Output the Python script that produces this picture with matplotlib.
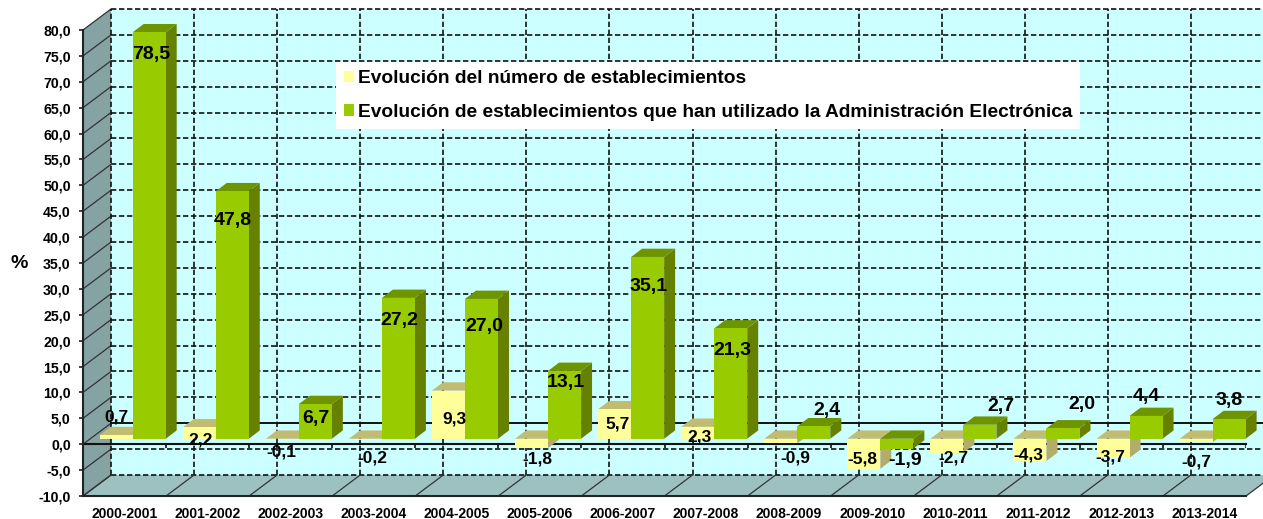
import numpy as np
import matplotlib
matplotlib.use('Agg')
import matplotlib.pyplot as plt
from matplotlib.patches import Polygon, Patch

plt.rcParams['font.family'] = ['Liberation Sans', 'DejaVu Sans']
plt.rcParams['font.weight'] = 'bold'

periods = ['2000-2001', '2001-2002', '2002-2003', '2003-2004', '2004-2005', '2005-2006', '2006-2007',
           '2007-2008', '2008-2009', '2009-2010', '2010-2011', '2011-2012', '2012-2013', '2013-2014']
establecimientos = [0.7, 2.2, -0.1, -0.2, 9.3, -1.8, 5.7, 2.3, -0.9, -5.8, -2.7, -4.3, -3.7, -0.7]
admin_electronica = [78.5, 47.8, 6.7, 27.2, 27.0, 13.1, 35.1, 21.3, 2.4, -1.9, 2.7, 2.0, 4.4, 3.8]

lab_est_px = [(116, 417), (201, 440), (281, 452), (372, 458), (454, 419), (537, 459), (618, 424),
              (700, 437), (795, 458), (862, 459), (953, 458), (1028, 455), (1110, 457), (1196, 462)]
lab_adm_px = [(151, 55), (233, 220), (316, 419), (399, 320), (484, 326), (566, 382), (649, 286),
              (732, 350), (827, 411), (905, 461), (1001, 406), (1082, 404), (1146, 397), (1229, 400)]

W, H = 1263, 519
LEFT, RIGHT, TOP, BOTTOM = 83, 1246, 30, 496

fig = plt.figure(figsize=(W / 100, H / 100), dpi=100, facecolor='white')
ax = fig.add_axes([LEFT / W, 1 - BOTTOM / H, (RIGHT - LEFT) / W, (BOTTOM - TOP) / H])
ax.set_xlim(0, 14)
ax.set_ylim(-10, 80)
ax.patch.set_visible(False)

xu = (RIGHT - LEFT) / 14
yu = (BOTTOM - TOP) / 90
wall_x = 28 / xu
wall_y = 21 / yu
depth_x = 11 / xu
depth_y = 8.3 / yu
base = 5.5 / yu
bar_w = 33 / xu
bar_off = 16.7 / xu


def to_data(px, py):
    return (px - LEFT) / xu, 80 - (py - TOP) / yu


def poly(pts, col, z):
    ax.add_patch(Polygon(pts, closed=True, fc=col, ec='none', zorder=z, clip_on=False))


# back wall, side wall, floor
x_end = 14 + 2 * wall_x
poly([(wall_x, -10 + wall_y), (x_end, -10 + wall_y), (x_end, 80 + wall_y), (wall_x, 80 + wall_y)], '#CCFFFF', 0.5)
poly([(0, -10), (wall_x, -10 + wall_y), (wall_x, 80 + wall_y), (0, 80)], '#85A3A3', 0.6)
poly([(0, -10), (14, -10), (14 + wall_x, -10 + wall_y), (wall_x, -10 + wall_y)], '#9DC1C1', 0.6)

# grid on the back wall
dash = dict(color='#111111', lw=1.2, linestyle=(0, (3.2, 1.6)), clip_on=False, zorder=1)
for v in np.arange(-10, 85, 5):
    if v != 0:
        ax.plot([wall_x, x_end], [v + wall_y, v + wall_y], **dash)
    ax.plot([0, wall_x], [v, v + wall_y], color='#333333', lw=0.9, clip_on=False, zorder=1)
ax.plot([wall_x, x_end], [wall_y, wall_y], color='#111111', lw=1.4, clip_on=False, zorder=1)
for i in range(15):
    ax.plot([i + wall_x, i + wall_x], [-10 + wall_y, 80 + wall_y], **dash)
    ax.plot([i, i + wall_x], [-10, -10 + wall_y], color='#333333', lw=0.9, clip_on=False, zorder=1)

# front axis at zero
ax.plot([0, 14], [0, 0], color='#111111', lw=1.5, zorder=1.5, clip_on=False)
ax.vlines(np.arange(15), -0.8, 0, color='#111111', lw=1.2, zorder=1.5)

series = [(establecimientos, 0, '#FFFF99', '#C2BC70', '#B3AD6B'),
          (admin_electronica, 1, '#99CC00', '#6E9400', '#668000')]

z = 2
for i in range(14):
    for vals, k, front, top, side in series:
        v = vals[i]
        x0 = i + bar_off + k * bar_w
        x1 = x0 + bar_w
        hi = base + max(v, 0)
        lo = base + min(v, 0)
        poly([(x1, lo), (x1 + depth_x, lo + depth_y), (x1 + depth_x, hi + depth_y), (x1, hi)], side, z)
        poly([(x0, hi), (x1, hi), (x1 + depth_x, hi + depth_y), (x0 + depth_x, hi + depth_y)], top, z)
        ax.bar(x0, v, bottom=base, width=bar_w, align='edge', color=front, zorder=z, clip_on=False)
        z += 0.01

for v, (px, py) in zip(establecimientos, lab_est_px):
    x, y = to_data(px, py)
    ax.text(x, y, f'{v:.1f}'.replace('.', ','), ha='center', va='center', fontsize=12.5, zorder=5)
for v, (px, py) in zip(admin_electronica, lab_adm_px):
    x, y = to_data(px, py)
    ax.text(x, y, f'{v:.1f}'.replace('.', ','), ha='center', va='center', fontsize=14, zorder=5)

# axes
for s in ['top', 'right']:
    ax.spines[s].set_visible(False)
for s in ['left', 'bottom']:
    ax.spines[s].set_color('#222222')
    ax.spines[s].set_linewidth(1.5)
    ax.spines[s].set_zorder(1.6)
yt = np.arange(-10, 85, 5)
ax.set_yticks(yt)
ax.set_yticklabels([f'{v:.1f}'.replace('.', ',') for v in yt], fontsize=10.2)
ax.tick_params(axis='y', length=2.8, width=1.2, pad=6, color='#222222')
ax.set_xticks(np.arange(14) + 0.5)
ax.set_xticklabels(periods, fontsize=10)
ax.tick_params(axis='x', length=0, pad=8)
ax.text(*to_data(19, 263), '%', ha='center', va='center', fontsize=14)

handles = [Patch(fc='#FFFF99', ec='none'), Patch(fc='#99CC00', ec='none')]
leg = ax.legend(handles, ['Evolución del número de establecimientos',
                          'Evolución de establecimientos que han utilizado la Administración Electrónica'],
                loc='upper left', bbox_to_anchor=(336 / W, 1 - 62.5 / H), bbox_transform=fig.transFigure,
                frameon=True, fancybox=False, framealpha=1, facecolor='white', edgecolor='none',
                prop={'size': 13.8, 'weight': 'bold'}, handlelength=0.55, handleheight=0.55,
                handletextpad=0.2, labelspacing=0.88, borderpad=0.4, borderaxespad=0)
leg.set_zorder(6)

fig.savefig('out.png', dpi=100)
